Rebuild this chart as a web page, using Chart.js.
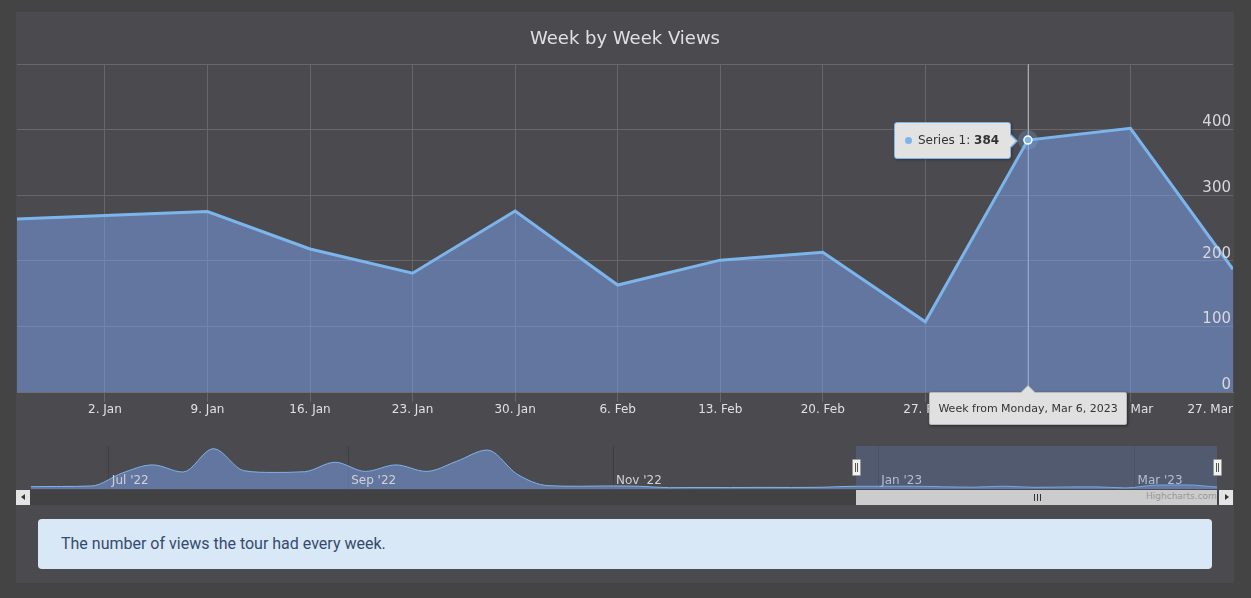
<!DOCTYPE html>
<html>
<head>
<meta charset="utf-8">
<title>Week by Week Views</title>
<script src="https://cdn.jsdelivr.net/npm/chart.js@4.4.1/dist/chart.umd.min.js"></script>
<style>
  html, body { margin: 0; padding: 0; }
  body { background: #444444; width: 1251px; height: 598px; position: relative; overflow: hidden;
         font-family: 'DejaVu Sans', sans-serif; }
  .abs { position: absolute; }
  #card { left: 16px; top: 12px; width: 1218px; height: 571px; background: #4b4a4f; }
  #main { left: 16px; top: 12px; }
  #nav { left: 31px; top: 446px; }
  #track { left: 16px; top: 490px; width: 1217px; height: 15px; background: #424244; }
  .btn { top: 490px; width: 14px; height: 15px; background: #e4e4e4; }
  .btn i { position: absolute; top: 4px; width: 0; height: 0; border-top: 3px solid transparent; border-bottom: 3px solid transparent; }
  #thumb { top: 490px; height: 15px; background: #cccccc; }
  #grip { top: 494px; width: 7px; height: 7px;
          background: linear-gradient(90deg, #333 1px, transparent 1px, transparent 3px, #333 3px, #333 4px, transparent 4px, transparent 6px, #333 6px); }
  #mask { top: 446px; height: 43px; background: rgba(102,133,194,0.28); }
  .handle { top: 459px; width: 7px; height: 15px; background: #f2f2f2; border: 1px solid #999; border-radius: 1px; }
  .handle i { position: absolute; top: 3px; height: 9px; width: 1px; background: #555; }
  #credit { top: 491px; font-size: 9px; color: #999; white-space: nowrap; }
  #desc { left: 38px; top: 519px; width: 1151px; height: 50px; padding-left: 23px; background: #d9e8f7;
          border-radius: 4px; font: 16px Roboto, sans-serif; color: #364a6e; line-height: 50px; }
  #tip { height: 35px; line-height: 35px; padding: 0 11px 0 23px; background: #e2e2e2;
         border: 1px solid #7cb5ec; border-radius: 3px; font-size: 12px; color: #333; white-space: nowrap;
         box-shadow: 1px 1px 3px rgba(0,0,0,0.3); }
  #tip .dot { position: absolute; left: 10px; top: 14px; width: 7px; height: 7px; border-radius: 50%; background: #7cb5ec; }
  #tip::before { content: ''; position: absolute; right: -8px; top: 10px; border-left: 8px solid #7cb5ec;
                 border-top: 8px solid transparent; border-bottom: 8px solid transparent; }
  #tip::after { content: ''; position: absolute; right: -6px; top: 11px; border-left: 7px solid #e2e2e2;
                border-top: 7px solid transparent; border-bottom: 7px solid transparent; }
  #xlab { height: 31px; line-height: 31px; padding: 0 8px; background: #e0e0e0; border: 1px solid #b8b8b8;
          border-radius: 2px; font-size: 11px; color: #333; white-space: nowrap;
          box-shadow: 1px 1px 3px rgba(0,0,0,0.45); }
  #xlab::before { content: ''; position: absolute; top: -8px; left: 50%; margin-left: -8px;
                  border-bottom: 8px solid #b8b8b8; border-left: 8px solid transparent; border-right: 8px solid transparent; }
  #xlab::after { content: ''; position: absolute; top: -7px; left: 50%; margin-left: -7px;
                 border-bottom: 7px solid #e0e0e0; border-left: 7px solid transparent; border-right: 7px solid transparent; }
</style>
</head>
<body>
<div id="card" class="abs"></div>
<canvas id="main" class="abs" width="1218" height="420"></canvas>
<div id="track" class="abs"></div>
<canvas id="nav" class="abs" width="1186" height="43"></canvas>
<div id="mask" class="abs"></div>
<div id="thumb" class="abs"></div>
<div id="grip" class="abs"></div>
<div id="credit" class="abs">Highcharts.com</div>
<div class="abs btn" style="left:16px"><i style="left:5px;border-right:4px solid #333"></i></div>
<div class="abs btn" style="left:1219px"><i style="left:6px;border-left:4px solid #333"></i></div>
<div id="hL" class="abs handle"><i style="left:2px"></i><i style="left:4px"></i></div>
<div id="hR" class="abs handle"><i style="left:2px"></i><i style="left:4px"></i></div>
<div id="tip" class="abs"><span class="dot"></span>Series 1: <b id="tipVal"></b></div>
<div id="xlab" class="abs"></div>
<div id="desc" class="abs">The number of views the tour had every week.</div>

<script>
// weeks as day offsets from Monday 2 Jan 2023
const weekDays = [-7, 0, 7, 14, 21, 28, 35, 42, 49, 56, 63, 70, 77];
const views = [263, 269, 275, 218, 181, 276, 163, 201, 213, 107, 384, 402, 187];

const viewRange = [-6, 77];
const tickDays = [-6, 0, 7, 14, 21, 28, 35, 42, 49, 56, 63, 70, 77];
const tickLabels = ['', '2. Jan', '9. Jan', '16. Jan', '23. Jan', '30. Jan', '6. Feb', '13. Feb',
                    '20. Feb', '27. Feb', '6. Mar', '13. Mar', '27. Mar'];

// navigator: earlier weeks, counted in weeks from 2 Jan 2023
const navEarlyWeeks = [-28, -27, -26, -25, -24, -23, -22, -21, -20, -19, -18, -17, -16, -15,
                       -14, -13, -12, -11, -10, -9, -8, -7, -6, -5, -4, -3, -2];
const navEarlyViews = [230, 250, 300, 1570, 2370, 1670, 3970, 1800, 1630, 1700, 2630, 1730, 2370, 1730,
                       2730, 3830, 1430, 330, 270, 300, 270, 130, 150, 140, 160, 150, 170];
const navTickWeeks = [-25.44, -17.57, -8.86, -0.14, 8.29];
const navTickLabels = ["Jul '22", "Sep '22", "Nov '22", "Jan '23", "Mar '23"];

const seriesName = 'Series 1';
const hoverDay = 63;
const hoverIndex = weekDays.indexOf(hoverDay);

Chart.defaults.font.family = "'DejaVu Sans', sans-serif";

const lineColor = '#7cb5ec';
const fillColor = 'rgba(123,162,241,0.5)';
const gridColor = '#67666b';

const hoverDecor = {
  id: 'hoverDecor',
  beforeDatasetsDraw(chart) {
    const pt = chart.getDatasetMeta(0).data[hoverIndex];
    const ctx = chart.ctx;
    const x = Math.round(pt.x) + 0.5;
    ctx.save();
    ctx.strokeStyle = '#aaaaae';
    ctx.lineWidth = 1;
    ctx.beginPath();
    ctx.moveTo(x, chart.chartArea.top);
    ctx.lineTo(x, chart.chartArea.bottom);
    ctx.stroke();
    ctx.restore();
  },
  afterDatasetDraw(chart, args) {
    if (args.index !== 0) return;
    const pt = chart.getDatasetMeta(0).data[hoverIndex];
    const ctx = chart.ctx;
    ctx.save();
    ctx.fillStyle = 'rgba(124,181,236,0.25)';
    ctx.beginPath();
    ctx.arc(pt.x, pt.y, 10, 0, Math.PI * 2);
    ctx.fill();
    ctx.restore();
  }
};

const mainPoints = weekDays.map((d, i) => ({ x: d, y: views[i] }));

const mainChart = new Chart(document.getElementById('main'), {
  type: 'line',
  data: {
    datasets: [{
      label: seriesName,
      data: mainPoints,
      borderColor: lineColor,
      borderWidth: 3,
      backgroundColor: fillColor,
      fill: 'origin',
      pointRadius: 0,
      order: 1
    }, {
      label: seriesName + ' marker',
      data: mainPoints,
      showLine: false,
      pointRadius: c => c.dataIndex === hoverIndex ? 4 : 0,
      pointBackgroundColor: lineColor,
      pointBorderColor: '#ffffff',
      pointBorderWidth: 1.5,
      order: 0
    }]
  },
  options: {
    responsive: false,
    animation: false,
    events: [],
    layout: { autoPadding: false, padding: 0 },
    plugins: {
      legend: { display: false },
      tooltip: { enabled: false },
      title: {
        display: true,
        text: 'Week by Week Views',
        color: '#e0e0e3',
        font: { size: 18, weight: 'normal' },
        padding: { top: 17, bottom: 13.4 }
      }
    },
    scales: {
      x: {
        type: 'linear',
        min: viewRange[0],
        max: viewRange[1],
        afterBuildTicks: s => { s.ticks = tickDays.map(v => ({ value: v })); },
        afterFit: s => { s.height = 40; },
        ticks: {
          autoSkip: false,
          maxRotation: 0,
          align: 'inner',
          padding: 1,
          color: '#e0e0e3',
          font: { size: 12 },
          callback: v => tickLabels[tickDays.indexOf(v)]
        },
        grid: {
          color: c => (c.tick && (c.tick.value === viewRange[0] || c.tick.value === viewRange[1])) ? 'rgba(0,0,0,0)' : gridColor,
          tickLength: 10
        },
        border: { color: '#707073' }
      },
      y: {
        position: 'right',
        min: 0,
        max: 500,
        afterFit: s => { s.width = 0; },
        ticks: {
          stepSize: 100,
          mirror: true,
          padding: -2,
          labelOffset: -7,
          z: 1,
          color: '#d8d8dc',
          font: { size: 15 },
          callback: v => v === 500 ? '' : v
        },
        grid: { color: gridColor, drawTicks: false },
        border: { display: false }
      }
    }
  },
  plugins: [hoverDecor]
});

const navPoints = navEarlyWeeks.map((w, i) => ({ x: w, y: navEarlyViews[i] }))
  .concat(weekDays.map((d, i) => ({ x: d / 7, y: views[i] })));

const navYMax = 4230;

const navChart = new Chart(document.getElementById('nav'), {
  type: 'line',
  data: {
    datasets: [{
      data: navPoints,
      borderColor: lineColor,
      borderWidth: 1,
      backgroundColor: fillColor,
      fill: 'origin',
      cubicInterpolationMode: 'monotone',
      pointRadius: 0
    }]
  },
  options: {
    responsive: false,
    animation: false,
    events: [],
    layout: { autoPadding: false, padding: 0 },
    plugins: { legend: { display: false }, tooltip: { enabled: false } },
    scales: {
      x: {
        type: 'linear',
        min: -28,
        max: 11,
        // axis sits inside the navigator strip so its labels overlay the area
        position: { y: 1500 },
        afterBuildTicks: s => { s.ticks = navTickWeeks.map(v => ({ value: v })); },
        ticks: {
          autoSkip: false,
          maxRotation: 0,
          align: 'start',
          labelOffset: 3,
          padding: 0,
          z: 1,
          color: '#d2d2d6',
          font: { size: 12 },
          callback: v => navTickLabels[navTickWeeks.indexOf(v)]
        },
        grid: { color: 'rgba(40,40,44,0.3)', drawTicks: false },
        border: { display: false }
      },
      y: { display: false, min: 0, max: navYMax }
    }
  }
});

// overlays placed from the charts' own scales
const mainLeft = 16, mainTop = 12, navLeft = 31;
const pt = mainChart.getDatasetMeta(0).data[hoverIndex];
const px = mainLeft + pt.x, py = mainTop + pt.y;

const tip = document.getElementById('tip');
document.getElementById('tipVal').textContent = views[hoverIndex];
tip.style.left = (px - 17 - tip.offsetWidth) + 'px';
tip.style.top = (py - tip.offsetHeight / 2) + 'px';

const weekDate = new Date(2023, 0, 2 + hoverDay);
const xlab = document.getElementById('xlab');
xlab.textContent = 'Week from ' + weekDate.toLocaleDateString('en-US', { weekday: 'long' }) + ', ' +
  weekDate.toLocaleDateString('en-US', { month: 'short', day: 'numeric', year: 'numeric' });
xlab.style.left = (px - xlab.offsetWidth / 2) + 'px';
xlab.style.top = (mainTop + mainChart.chartArea.bottom) + 'px';

const mL = navLeft + navChart.scales.x.getPixelForValue(viewRange[0] / 7);
const mR = navLeft + navChart.scales.x.getPixelForValue(viewRange[1] / 7);
const mask = document.getElementById('mask');
mask.style.left = mL + 'px';
mask.style.width = (mR - mL) + 'px';
const thumb = document.getElementById('thumb');
thumb.style.left = mL + 'px';
thumb.style.width = (mR - mL) + 'px';
document.getElementById('grip').style.left = ((mL + mR) / 2 - 3) + 'px';
document.getElementById('hL').style.left = (mL - 4.5) + 'px';
document.getElementById('hR').style.left = (mR - 4.5) + 'px';
const credit = document.getElementById('credit');
credit.style.left = (mR - credit.offsetWidth) + 'px';
</script>
</body>
</html>
